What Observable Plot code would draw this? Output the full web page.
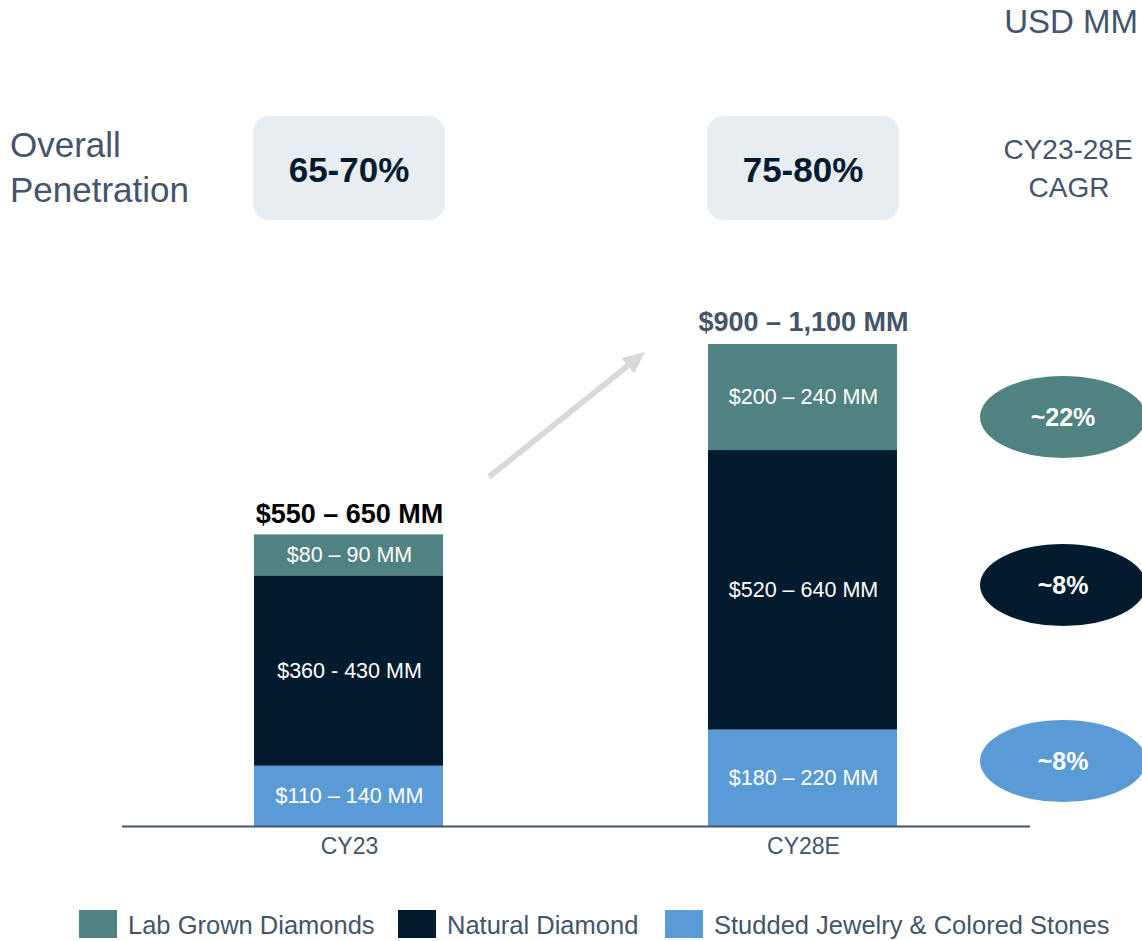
<!DOCTYPE html>
<html>
<head>
<meta charset="utf-8">
<script src="https://cdn.jsdelivr.net/npm/d3@7"></script>
<script src="https://cdn.jsdelivr.net/npm/@observablehq/plot@0.6"></script>
<style>
  html, body { margin: 0; padding: 0; background: #fff; }
  body { width: 1142px; height: 941px; overflow: hidden; font-family: "Liberation Sans", Arial, sans-serif; }
  #legend { position: relative; width: 1142px; height: 41px; color: #44546A; font-size: 25.5px; }
  #legend .sw { position: absolute; top: 10px; width: 38px; height: 28px; }
  #legend .lb { position: absolute; line-height: 28px; white-space: nowrap; }
</style>
</head>
<body>
<div id="chart"></div>
<div id="legend"></div>
<script>
// ---- data ----
const years = ["CY23", "CY28E"];
const segments = ["Studded Jewelry & Colored Stones", "Natural Diamond", "Lab Grown Diamonds"];
const studded = [125, 200];
const natural = [395, 580];
const lab = [85, 220];
const studdedLabels = ["$110 – 140 MM", "$180 – 220 MM"];
const naturalLabels = ["$360 - 430 MM", "$520 – 640 MM"];
const labLabels = ["$80 – 90 MM", "$200 – 240 MM"];
const totalLabels = ["$550 – 650 MM", "$900 – 1,100 MM"];
const penetration = ["65-70%", "75-80%"];
const cagrLabels = ["~22%", "~8%", "~8%"]; // lab, natural, studded
const segColors = ["#5B9BD5", "#021B2E", "#508281"];
const legendOrder = ["Lab Grown Diamonds", "Natural Diamond", "Studded Jewelry & Colored Stones"];

const textColor = "#44546A";
const font = "'Liberation Sans', Arial, sans-serif";

// ---- table ----
const rows = [];
years.forEach((yr, i) => {
  rows.push({year: yr, segment: segments[0], value: studded[i], label: studdedLabels[i]});
  rows.push({year: yr, segment: segments[1], value: natural[i], label: naturalLabels[i]});
  rows.push({year: yr, segment: segments[2], value: lab[i], label: labLabels[i]});
});
const totals = years.map((yr, i) => ({year: yr, total: studded[i] + natural[i] + lab[i], label: totalLabels[i]}));

const colorOf = seg => segColors[segments.indexOf(seg)];

// ---- decorations (custom mark) ----
function decorations(index, scales, values, dims) {
  const x = scales.x;
  const bw = typeof x.bandwidth === "function" ? x.bandwidth() : (x.bandwidth || 0);
  const cx = yr => x(yr) + bw / 2;
  const g = d3.create("svg:g").attr("font-family", font);

  // header texts
  g.append("text").attr("x", 1138).attr("y", 33).attr("text-anchor", "end")
    .attr("font-size", 33).attr("fill", textColor).text("USD MM");
  g.append("text").attr("x", 10).attr("y", 157).attr("text-anchor", "start")
    .attr("font-size", 35).attr("fill", textColor).text("Overall");
  g.append("text").attr("x", 10).attr("y", 202).attr("text-anchor", "start")
    .attr("font-size", 35).attr("fill", textColor).text("Penetration");
  g.append("text").attr("x", 1068).attr("y", 159).attr("text-anchor", "middle")
    .attr("font-size", 28).attr("fill", textColor).text("CY23-28E");
  g.append("text").attr("x", 1069).attr("y", 197).attr("text-anchor", "middle")
    .attr("font-size", 28).attr("fill", textColor).text("CAGR");

  // penetration boxes
  years.forEach((yr, i) => {
    const c = cx(yr);
    g.append("rect").attr("x", c - 96).attr("y", 116).attr("width", 192).attr("height", 104)
      .attr("rx", 16).attr("fill", "#E8EDF2");
    g.append("text").attr("x", c).attr("y", 182).attr("text-anchor", "middle")
      .attr("font-size", 35).attr("font-weight", "bold").attr("fill", "#021B2E").text(penetration[i]);
  });

  // growth arrow
  const x0 = cx(years[0]) + 140, y0 = 477, x1 = cx(years[1]) - 158, y1 = 352;
  const ang = Math.atan2(y1 - y0, x1 - x0);
  const hl = 22, hw = 10;
  const bx = x1 - hl * Math.cos(ang), by = y1 - hl * Math.sin(ang);
  g.append("line").attr("x1", x0).attr("y1", y0).attr("x2", bx).attr("y2", by)
    .attr("stroke", "#D9D9D9").attr("stroke-width", 6);
  const px = -Math.sin(ang), py = Math.cos(ang);
  g.append("path")
    .attr("d", `M${x1},${y1}L${bx + px * hw},${by + py * hw}L${bx - px * hw},${by - py * hw}Z`)
    .attr("fill", "#D9D9D9");

  // CAGR ellipses
  const cys = [417, 585, 761];
  const ellColors = [colorOf(segments[2]), colorOf(segments[1]), colorOf(segments[0])];
  cagrLabels.forEach((t, i) => {
    g.append("ellipse").attr("cx", 1063).attr("cy", cys[i]).attr("rx", 83).attr("ry", 41)
      .attr("fill", ellColors[i]);
    g.append("text").attr("x", 1063).attr("y", cys[i] + 9).attr("text-anchor", "middle")
      .attr("font-size", 25).attr("font-weight", "bold").attr("fill", "#fff").text(t);
  });
  return g.node();
}

const plot = Plot.plot({
  width: 1142,
  height: 900,
  marginLeft: 122,
  marginRight: 112,
  marginTop: 0,
  marginBottom: 74,
  style: {fontFamily: font, background: "#fff", overflow: "visible"},
  x: {domain: years, padding: 0, axis: null},
  y: {domain: [0, 1000], range: [826, 344], axis: null},
  color: {domain: segments, range: segColors},
  marks: [
    Plot.barY(rows, {x: "year", y: "value", fill: "segment", order: segments, insetLeft: 132, insetRight: 133}),
    Plot.text(rows, Plot.stackY({x: "year", y: "value", z: "segment", order: segments, text: "label",
      fill: "#fff", fontSize: 21.5})),
    Plot.text(totals.filter(d => d.year === "CY23"), {x: "year", y: "total", text: "label", dy: -21,
      fontSize: 27, fontWeight: "bold", fill: "#000"}),
    Plot.text(totals.filter(d => d.year === "CY28E"), {x: "year", y: "total", text: "label", dy: -22,
      fontSize: 27, fontWeight: "bold", fill: textColor}),
    Plot.ruleY([0], {stroke: textColor, strokeWidth: 2}),
    Plot.text(years, {x: d => d, frameAnchor: "bottom", dy: 27, text: d => d, fontSize: 23, fill: textColor}),
    decorations
  ]
});
document.getElementById("chart").appendChild(plot);

// ---- legend ----
const legend = document.getElementById("legend");
const swLeft = [79, 398, 665];
const lbLeft = [128, 447, 714];
legendOrder.forEach((seg, i) => {
  const sw = document.createElement("div");
  sw.className = "sw";
  sw.style.left = swLeft[i] + "px";
  sw.style.background = colorOf(seg);
  legend.appendChild(sw);
  const lb = document.createElement("div");
  lb.className = "lb";
  lb.style.left = lbLeft[i] + "px";
  lb.style.top = "11px";
  lb.textContent = seg;
  legend.appendChild(lb);
});
</script>
</body>
</html>
